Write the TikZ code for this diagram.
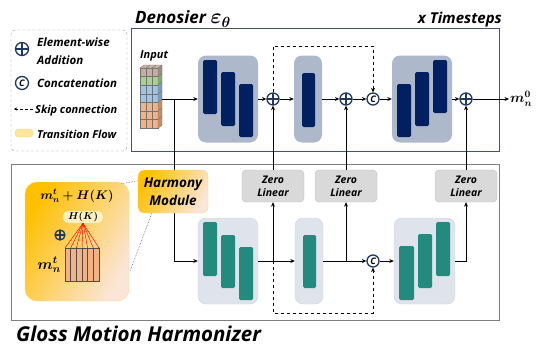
\RequirePackage{fix-cm}
\documentclass[tikz,border=0pt]{standalone}
\usepackage{fontspec}
\usepackage{amsmath,bm}
\newfontfamily\calfont{Open Sans}
\usetikzlibrary{arrows.meta,positioning,calc}

\definecolor{denocol}{RGB}{68,84,106}
\definecolor{harmcol}{RGB}{127,127,127}
\definecolor{legcol}{RGB}{150,150,150}
\definecolor{encfill}{RGB}{173,185,202}
\definecolor{navybar}{RGB}{0,32,96}
\definecolor{lowfill}{RGB}{223,227,236}
\definecolor{tealbar}{RGB}{35,139,126}
\definecolor{zerofill}{RGB}{217,217,217}
\definecolor{zeroline}{RGB}{191,191,191}
\definecolor{symcol}{RGB}{31,56,100}
\definecolor{hgold}{RGB}{255,192,0}
\definecolor{hpeach}{RGB}{251,229,214}
\definecolor{pillcol}{RGB}{255,230,153}
\definecolor{cellbrown}{RGB}{198,172,162}
\definecolor{cellgreen}{RGB}{169,209,142}
\definecolor{cellblue}{RGB}{157,195,230}
\definecolor{cellorange}{RGB}{244,177,131}

\newcommand{\lfont}[2]{\calfont\bfseries\itshape\fontsize{#1}{#2}\selectfont}

\begin{document}
\begin{tikzpicture}[x=1pt, y=-1pt,
		lbl/.style={inner sep=0pt},
		flow/.style={-{Stealth[length=4.5pt,width=4pt]}, line width=0.8pt},
		skip/.style={flow, dashed},
		sym/.style={circle, draw=symcol, line width=1.3pt, minimum size=12pt, inner sep=0pt},
		addsym/.style={sym, path picture={\draw[symcol, line width=1.3pt]
			(path picture bounding box.north) -- (path picture bounding box.south)
			(path picture bounding box.west) -- (path picture bounding box.east);}},
		catsym/.style={sym, font=\lfont{9}{9}},
		encbox/.style={fill=encfill, rounded corners=8pt, minimum height=87pt},
		lowbox/.style={fill=lowfill, draw=lowfill!85!gray, rounded corners=8pt, minimum height=86pt},
		zerobox/.style={fill=zerofill, draw=zeroline, rounded corners=4pt, align=center, inner sep=0pt,
			minimum width=62pt, minimum height=32pt, font=\lfont{10.5}{13}},
		harmbox/.style={draw=hpeach!70!hgold, left color=hgold, right color=hpeach, shading angle=60,
			rounded corners=6pt, align=center, inner sep=0pt, minimum width=70pt, minimum height=43pt,
			font=\lfont{13.5}{18}}]
	\useasboundingbox (0,0) rectangle (537,345);

	% frames and titles
	\draw[legcol, densely dashed, rounded corners=4pt] (11,30) rectangle (127,151);
	\draw[denocol, line width=1pt] (131,29) rectangle (499,151);
	\draw[harmcol, line width=1pt] (11,164) rectangle (499,320);
	\node[lbl, anchor=base west, font=\lfont{17}{20}] (dtitle) at (135,24) {Denosier {\fontsize{21}{22}\selectfont$\bm{\varepsilon_\theta}$}};
	\node[lbl, anchor=base east, font=\lfont{15}{17}] (steps) at (502,24) {x Timesteps};
	\node[lbl, anchor=base west, font=\lfont{20.5}{22}] (gtitle) at (16,341) {Gloss Motion Harmonizer};

	% legend
	\node[addsym, minimum size=13pt] (leg1) at (22,49) {};
	\node[lbl, anchor=base west, font=\lfont{11.5}{13}] (legt1) at (37,47) {Element-wise};
	\node[lbl, anchor=base west, font=\lfont{11.5}{13}] (legt1b) at (37,64) {Addition};
	\node[catsym, minimum size=13pt] (leg2) at (22,83) {C};
	\node[lbl, anchor=base west, font=\lfont{11.5}{13}] (legt2) at (37,87) {Concatenation};
	\coordinate (leg3) at (33,109);
	\draw[-{Stealth[length=3pt,width=3pt]}, densely dashed, line width=0.6pt] (leg3) -- ++(-19,0);
	\node[lbl, anchor=base west, font=\lfont{11}{13}] (legt3) at (35,113) {Skip connection};
	\node[fill=pillcol, draw=pillcol!80!orange, rounded corners=3.5pt, minimum width=18pt, minimum height=8pt, inner sep=0pt] (leg4) at (24,133) {};
	\node[lbl, anchor=base west, font=\lfont{11}{13}] (legt4) at (37,138) {Transition Flow};

	% input cube
	\node[lbl, anchor=base west, font=\lfont{11}{13}] (inlbl) at (140,58) {Input};
	\foreach \r/\c in {0/cellbrown,1/cellgreen,2/cellblue,3/cellblue,4/cellorange,5/cellorange,6/cellorange} {
		\foreach \k in {0,1,2}
			\draw[fill=\c, draw=black!55, line width=0.3pt] (140+\k*6,68+\r*8.6) rectangle ++(6,8.6);
		\draw[fill=\c!80!black, draw=black!55, line width=0.3pt] (158,68+\r*8.6) -- ++(4,-3) -- ++(0,8.6) -- ++(-4,3) -- cycle;
	}
	\foreach \k in {0,1,2}
		\draw[fill=cellbrown!90!white, draw=black!55, line width=0.3pt] (140+\k*6,68) -- ++(4,-3) -- ++(6,0) -- ++(-4,3) -- cycle;
	\coordinate (inp) at (162,99);

	% denoiser
	\node[encbox, minimum width=60pt] (enc1) at (228,99) {};
	\fill[navybar, rounded corners=1.5pt] (203,60) rectangle (217,114) (221,72) rectangle (235,126) (239,84) rectangle (253,137);
	\node[addsym] (add1) at (273,99) {};
	\node[encbox, minimum width=28pt] (mid1) at (308,99) {};
	\fill[navybar, rounded corners=1.5pt] (302,73) rectangle (315,127);
	\node[addsym] (add2) at (346,99) {};
	\node[catsym] (cat1) at (373,99) {C};
	\node[encbox, minimum width=60pt] (dec1) at (422,99) {};
	\fill[navybar, rounded corners=1.5pt] (397,84) rectangle (411,137) (415,72) rectangle (429,126) (433,60) rectangle (447,113);
	\node[addsym] (add3) at (466,99) {};
	\coordinate (out) at (509,99);
	\node[anchor=west, inner sep=1pt, font=\fontsize{14}{16}\selectfont] (outlbl) at (out) {$\bm{m_n^0}$};

	\draw[flow] (inp) -- (enc1);
	\draw[flow] (enc1) -- (add1);
	\draw[flow] (add1) -- (mid1);
	\draw[flow] (mid1) -- (add2);
	\draw[flow] (add2) -- (cat1);
	\draw[flow] (cat1) -- (dec1);
	\draw[flow] (dec1) -- (add3);
	\draw[flow] (add3) -- (out);
	\draw[skip] (add1) -- ++(0,-53) -| (cat1);

	% zero linear layers
	\node[zerobox] (zl1) at (273,186) {Zero\\Linear};
	\node[zerobox] (zl2) at (346,186) {Zero\\Linear};
	\node[zerobox] (zl3) at (466,186) {Zero\\Linear};
	\draw[flow] (zl1) -- (add1);
	\draw[flow] (zl2) -- (add2);
	\draw[flow] (zl3) -- (add3);

	% harmonizer copy
	\node[lowbox, minimum width=60pt] (low1) at (228,261) {};
	\fill[tealbar, rounded corners=1.5pt] (203,222) rectangle (217,276) (221,235) rectangle (235,288) (239,247) rectangle (253,300);
	\node[lowbox, minimum width=28pt] (low2) at (309,261) {};
	\fill[tealbar, rounded corners=1.5pt] (303,235) rectangle (316,288);
	\node[catsym] (cat2) at (373,261) {C};
	\node[lowbox, minimum width=61pt] (low3) at (424.5,261) {};
	\fill[tealbar, rounded corners=1.5pt] (399,246) rectangle (414,300) (418,234) rectangle (432,288) (436,222) rectangle (450,276);

	\coordinate (b0) at (174,99);
	\coordinate (b1) at (273,261);
	\coordinate (b2) at (346,261);
	\draw[flow] (b0) |- (low1);
	\draw[flow] (low1) -- (low2);
	\draw[flow] (b1) -- (zl1);
	\draw[skip] (b1) -- ++(0,52) -| (cat2);
	\draw[flow] (low2) -- (cat2);
	\draw[flow] (b2) -- (zl2);
	\draw[flow] (cat2) -- (low3);
	\draw[flow] (low3) -| (zl3);

	% harmony module and its close-up
	\node[harmbox] (harm) at (173,191.5) {Harmony\\Module};
	\node[draw=hpeach!60!hgold, left color=hgold, right color=hpeach, shading angle=60, rounded corners=12pt,
		minimum width=104pt, minimum height=119pt] (zoom) at (77,241.5) {};
	\draw[black!60, densely dotted, line width=0.6pt] ($(harm.north west)+(0,11)$) -- ($(zoom.north east)+(-8,2)$);
	\draw[black!60, densely dotted, line width=0.6pt] ($(harm.south west)+(14,0)$) -- ($(zoom.east)+(1,29)$);
	\node[font=\fontsize{12.5}{14}\selectfont, inner sep=0pt] (sum) at (77,196) {$\bm{m_n^t+H(K)}$};
	\node[fill=pillcol!60!white, rounded corners=5pt, inner sep=1pt, minimum width=40pt, minimum height=12pt,
		font=\fontsize{10}{11}\selectfont] (hk) at (83,217) {$\bm{H(K)}$};
	\node[addsym, minimum size=10pt] (add0) at (60,235) {};
	\fill[cellorange] (65,248) rectangle (99,281);
	\foreach \i in {0,...,6} {
		\draw[black!70, line width=0.5pt] (65+\i*5.667,248) -- (65+\i*5.667,281);
		\draw[red, line width=0.45pt] (hk.south) -- (65+\i*5.667,248);
	}
	\draw[black!70, line width=0.5pt] (65,248) rectangle (99,281);
	\node[font=\fontsize{15}{17}\selectfont, inner sep=0pt] (mt) at (49,265) {$\bm{m_n^t}$};
\end{tikzpicture}
\end{document}
